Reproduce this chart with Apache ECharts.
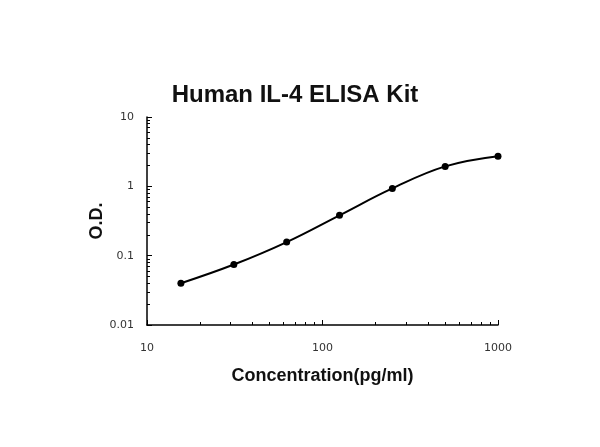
<!DOCTYPE html>
<html>
<head>
<meta charset="utf-8">
<script src="https://cdn.jsdelivr.net/npm/echarts@6/dist/echarts.min.js"></script>
<style>
html,body{margin:0;padding:0;background:#fff;}
#chart{width:600px;height:447px;}
</style>
</head>
<body>
<div id="chart"></div>
<script>
const concentrations = [15.6, 31.25, 62.5, 125, 250, 500, 1000];
const odValues = [0.040, 0.0745, 0.157, 0.382, 0.934, 1.94, 2.72];
const xMinorTicks = [20,30,40,50,60,70,80,90,200,300,400,500,600,700,800,900];
const yMinorTicks = [0.02,0.03,0.04,0.05,0.06,0.07,0.08,0.09,0.2,0.3,0.4,0.5,0.6,0.7,0.8,0.9,2,3,4,5,6,7,8,9];
const titleText = 'Human IL-4 ELISA Kit';
const xName = 'Concentration(pg/ml)';
const yName = 'O.D.';

const font = '"Liberation Sans", Arial, sans-serif';
const tickFont = '"DejaVu Sans", Verdana, sans-serif';
const fmt = v => String(+v.toPrecision(6));
const chart = echarts.init(document.getElementById('chart'));
const baseX = {
  type: 'log', logBase: 10, min: 10, max: 1000, gridIndex: 0, position: 'bottom',
  splitLine: {show: false}
};
const baseY = {
  type: 'log', logBase: 10, min: 0.01, max: 10, gridIndex: 0, position: 'left',
  splitLine: {show: false}
};
chart.setOption({
  animation: false,
  backgroundColor: '#fff',
  title: {
    text: titleText, left: 290, top: 78, textAlign: 'center',
    textStyle: {fontFamily: font, fontWeight: 'bold', fontSize: 24, color: '#111'}
  },
  grid: {left: 147, right: 102, top: 117, bottom: 122, containLabel: false},
  xAxis: [
    Object.assign({}, baseX, {
      name: xName, nameLocation: 'middle', nameGap: 42, nameMoveOverlap: false,
      nameTextStyle: {fontFamily: font, fontWeight: 'bold', fontSize: 18, color: '#111'},
      axisLine: {show: true, lineStyle: {color: '#000', width: 1.5}},
      axisTick: {show: true, inside: true, length: 5, lineStyle: {color: '#000', width: 1}},
      axisLabel: {fontFamily: tickFont, fontSize: 11, color: '#333', margin: 18, formatter: fmt}
    }),
    Object.assign({}, baseX, {
      axisLine: {show: false},
      axisLabel: {show: false},
      axisTick: {show: true, inside: true, length: 3, customValues: xMinorTicks, lineStyle: {color: '#000', width: 1}}
    })
  ],
  yAxis: [
    Object.assign({}, baseY, {
      name: yName, nameLocation: 'middle', nameGap: 41, nameMoveOverlap: false,
      nameTextStyle: {fontFamily: font, fontWeight: 'bold', fontSize: 18, color: '#111'},
      axisLine: {show: true, lineStyle: {color: '#000', width: 1.5}},
      axisTick: {show: true, inside: true, length: 5, lineStyle: {color: '#000', width: 1}},
      axisLabel: {fontFamily: tickFont, fontSize: 11, color: '#333', margin: 13, formatter: fmt}
    }),
    Object.assign({}, baseY, {
      axisLine: {show: false},
      axisLabel: {show: false},
      axisTick: {show: true, inside: true, length: 3, customValues: yMinorTicks, lineStyle: {color: '#000', width: 1}}
    })
  ],
  series: [{
    type: 'line',
    xAxisIndex: 0, yAxisIndex: 0,
    data: concentrations.map((c, i) => [c, odValues[i]]),
    smooth: 0.4,
    symbol: 'circle', symbolSize: 7,
    lineStyle: {color: '#000', width: 2},
    itemStyle: {color: '#000'}
  }]
});
</script>
</body>
</html>
